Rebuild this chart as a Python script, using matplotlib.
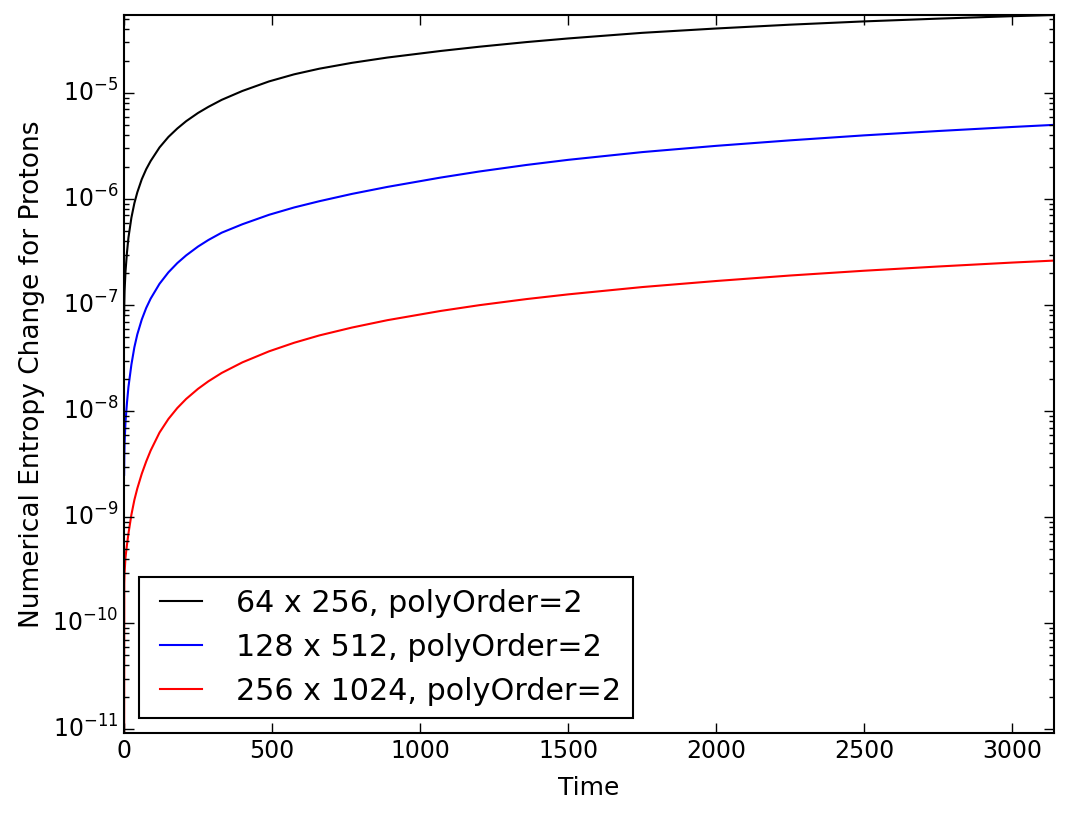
import matplotlib
matplotlib.use('Agg')
import matplotlib.pyplot as plt

plt.style.use('classic')

# time samples
time = [0.5, 1, 2, 5, 10, 15, 25, 35, 45, 60, 75, 90, 120, 150, 180, 210,
        250, 285, 330, 400, 490, 575, 660, 770, 890, 1070, 1200, 1360,
        1500, 1750, 2000, 2250, 2500, 2750, 3000, 3142]

# 64 x 256
ent_64 = [7.94e-8, 1.035e-7, 1.365e-7, 2.06e-7, 3.13e-7, 4.33e-7, 6.68e-7,
          9.14e-7, 1.159e-6, 1.538e-6, 1.914e-6, 2.286e-6, 3.07e-6,
          3.855e-6, 4.63e-6, 5.43e-6, 6.49e-6, 7.41e-6, 8.63e-6, 1.047e-5,
          1.288e-5, 1.503e-5, 1.698e-5, 1.928e-5, 2.163e-5, 2.495e-5,
          2.735e-5, 3.027e-5, 3.273e-5, 3.698e-5, 4.064e-5, 4.416e-5,
          4.742e-5, 5.035e-5, 5.309e-5, 5.445e-5]
# 128 x 512
ent_128 = [2.51e-9, 3.67e-9, 5.01e-9, 7.89e-9, 1.197e-8, 1.69e-8, 2.748e-8,
           4.0e-8, 5.3e-8, 7.31e-8, 9.4e-8, 1.151e-7, 1.589e-7, 2.037e-7,
           2.489e-7, 2.944e-7, 3.565e-7, 4.111e-7, 4.819e-7, 5.79e-7,
           7.11e-7, 8.34e-7, 9.55e-7, 1.119e-6, 1.303e-6, 1.596e-6,
           1.82e-6, 2.099e-6, 2.344e-6, 2.773e-6, 3.177e-6, 3.581e-6,
           3.99e-6, 4.385e-6, 4.786e-6, 5.012e-6]
# 256 x 1024
ent_256 = [9.3e-12, 2.37e-10, 3.02e-10, 4.16e-10, 5.48e-10, 7.0e-10,
           1.054e-9, 1.452e-9, 1.866e-9, 2.564e-9, 3.35e-9, 4.246e-9,
           6.28e-9, 8.43e-9, 1.069e-8, 1.303e-8, 1.622e-8, 1.91e-8,
           2.291e-8, 2.884e-8, 3.664e-8, 4.416e-8, 5.176e-8, 6.14e-8,
           7.21e-8, 8.81e-8, 9.98e-8, 1.14e-7, 1.262e-7, 1.479e-7, 1.687e-7,
           1.901e-7, 2.109e-7, 2.312e-7, 2.518e-7, 2.63e-7]

labels = ['64 x 256, polyOrder=2', '128 x 512, polyOrder=2',
          '256 x 1024, polyOrder=2']
colors = ['k', 'b', 'r']

fig = plt.figure(figsize=(10.69, 8.19), dpi=100)
fig.patch.set_facecolor('white')
ax = fig.add_axes([0.116, 0.105, 0.870, 0.8767])

for ys, lab, c in zip([ent_64, ent_128, ent_256], labels, colors):
    ax.semilogy(time, ys, color=c, lw=1.5, label=lab)

ax.set_xlim(0, 3141.6)
ax.set_ylim(9.2e-12, 5.45e-5)
ax.set_xticks([0, 500, 1000, 1500, 2000, 2500, 3000])

ax.set_xlabel('Time', fontsize=18, labelpad=10)
ax.set_ylabel('Numerical Entropy Change for Protons', fontsize=19)
ax.tick_params(axis='both', which='major', labelsize=17, length=7, width=1)
ax.tick_params(axis='both', which='minor', length=3.5, width=1)
for sp in ax.spines.values():
    sp.set_linewidth(1.5)

leg = ax.legend(loc='lower left', fontsize=21.7, fancybox=False,
                handlelength=2, borderaxespad=0.5)
leg.get_frame().set_linewidth(1.5)

fig.savefig('out.png', dpi=100, facecolor='white')
